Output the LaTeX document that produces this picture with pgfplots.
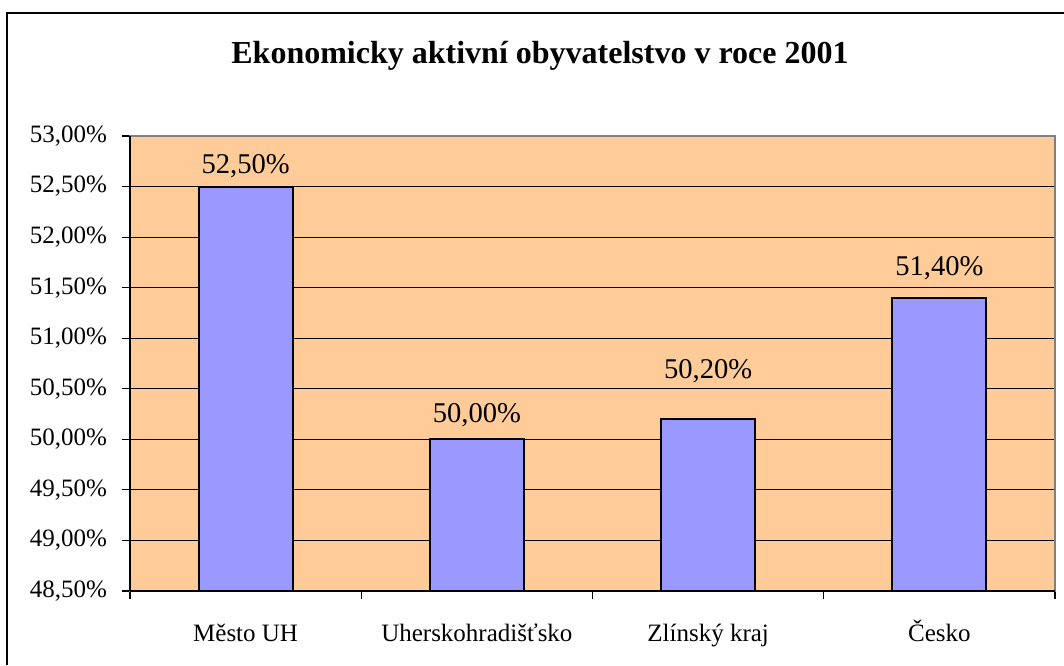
\documentclass[border=0pt]{standalone}
\usepackage{fontspec}
\setmainfont{Liberation Serif}
\usepackage{pgfplots}
\pgfplotsset{compat=1.18}
\definecolor{plotbg}{HTML}{FFCC99}
\definecolor{barfill}{HTML}{9999FF}
\begin{document}
\begin{tikzpicture}
\useasboundingbox (0pt,0pt) rectangle (532pt,332.5pt);
\draw[line width=1pt] (3.5pt,0pt) -- (3.5pt,326pt) -- (532pt,326pt);
\node[font=\bfseries\fontsize{16}{19}\selectfont] at (270pt,304.5pt) {Ekonomicky aktivní obyvatelstvo v roce 2001};
\begin{axis}[
  at={(65pt,37pt)}, anchor=origin,
  scale only axis, width=462.5pt, height=227.5pt,
  xmin=0, xmax=4, ymin=48.5, ymax=53,
  axis background/.style={fill=plotbg},
  axis line style={draw=gray, line width=1pt},
  xtick={0.5,1.5,2.5,3.5},
  xticklabels={Město UH,Uherskohradišťsko,Zlínský kraj,Česko},
  major x tick style={draw=none},
  minor xtick={0,1,2,3,4},
  minor x tick style={black, line width=0.6pt},
  minor tick length=4pt,
  ytick={48.5,49,...,53},
  ymajorgrids, grid style={black, line width=0.5pt},
  major y tick style={black, line width=0.6pt},
  major tick length=4pt,
  tick align=outside, tick pos=left,
  /pgf/number format/assume math mode=true,
  yticklabel={\pgfmathprintnumber[fixed,fixed zerofill,precision=2,use comma]{\tick}\%},
  tick label style={font=\fontsize{12.5}{14}\selectfont},
  y tick label style={xshift=-4pt},
  x tick label style={yshift=-8.5pt, text height=9pt, text depth=3pt},
  clip=false,
]
\addplot[ybar, bar width=47pt, fill=barfill, draw=black, line width=1pt, bar shift=0pt,
  visualization depends on={\thisrow{dy} \as \dy},
  nodes near coords={\pgfmathprintnumber[fixed,fixed zerofill,precision=2,use comma,assume math mode=true]{\pgfplotspointmeta}\%},
  every node near coord/.append style={font=\fontsize{14.3}{16}\selectfont, anchor=base, yshift=\dy pt},
] table {
x y dy
0.5 52.5 6.5
1.5 50.0 8.5
2.5 50.2 20.5
3.5 51.4 11
};
\draw[black, line width=1pt] (rel axis cs:0,0) -- (rel axis cs:1,0);
\draw[black, line width=0.6pt] (rel axis cs:0,0) -- (rel axis cs:0,1);
\end{axis}
\end{tikzpicture}
\end{document}
